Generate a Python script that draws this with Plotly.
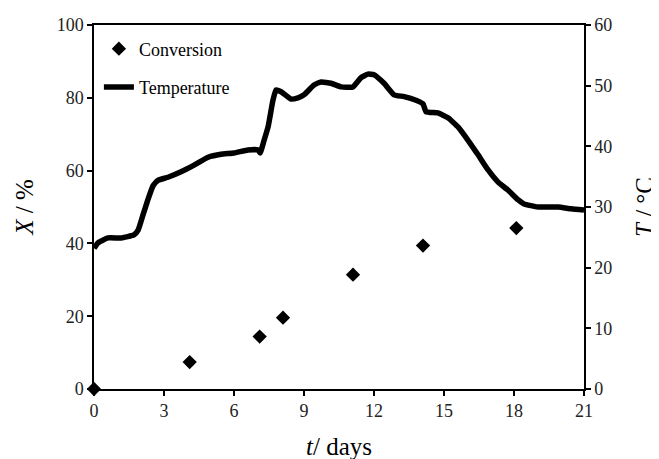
import plotly.graph_objects as go

# Conversion data
conv_t = [0, 4.1, 7.1, 8.1, 11.1, 14.1, 18.1]
conv_x = [0, 7.4, 14.4, 19.6, 31.4, 39.4, 44.2]

# Temperature data (right axis)
temp_t = [0, 0.17, 0.6, 1.16, 1.71, 1.89, 2.1, 2.31, 2.53, 2.74, 3.17, 3.73, 4.29,
          4.89, 5.44, 6.0, 6.6, 7.03, 7.12, 7.29, 7.46, 7.67, 7.8, 8.02, 8.44, 8.74,
          9.0, 9.43, 9.73, 10.16, 10.59, 11.1, 11.44, 11.74, 12.0, 12.43, 12.86,
          13.29, 13.8, 14.1, 14.23, 14.74, 15.17, 15.6, 16.03, 16.46, 16.89, 17.32,
          17.74, 18.17, 18.43, 19.03, 19.89, 20.45, 21.0]
temp_T = [23.2, 24.1, 24.9, 24.9, 25.4, 26.2, 28.7, 31.2, 33.5, 34.4, 34.9, 35.8, 36.9,
          38.2, 38.7, 38.9, 39.4, 39.4, 38.9, 41.0, 43.2, 47.6, 49.3, 49.0, 47.8, 48.0,
          48.5, 50.1, 50.6, 50.4, 49.8, 49.8, 51.3, 51.9, 51.8, 50.4, 48.5,
          48.2, 47.6, 47.0, 45.7, 45.5, 44.7, 43.2, 41.0, 38.6, 36.1, 34.1,
          32.8, 31.2, 30.5, 30.0, 30.0, 29.7, 29.5]

x_ticks = [0, 3, 6, 9, 12, 15, 18, 21]
y1_ticks = [0, 20, 40, 60, 80, 100]
y2_ticks = [0, 10, 20, 30, 40, 50, 60]

FONT = "Liberation Serif, Times New Roman, serif"

fig = go.Figure()
fig.add_trace(go.Scatter(
    x=conv_t, y=conv_x, mode="markers", name="Conversion", legendgroup="c",
    marker=dict(symbol="diamond", size=11, color="black"),
    cliponaxis=False, yaxis="y"))
fig.add_trace(go.Scatter(
    x=temp_t, y=temp_T, mode="lines", name="Temperature", legendgroup="t",
    line=dict(color="black", width=5.5, shape="spline", smoothing=0.4),
    cliponaxis=False, yaxis="y2"))

axis_common = dict(showgrid=False, zeroline=False, showline=True, linecolor="black",
                   linewidth=1.5, ticks="outside", ticklen=5, tickwidth=1.5,
                   tickcolor="black", automargin=False,
                   tickfont=dict(family=FONT, size=18, color="#222"))

fig.update_layout(
    width=659, height=459,
    margin=dict(l=86, r=83, t=17, b=78),
    plot_bgcolor="white", paper_bgcolor="white",
    font=dict(family=FONT, color="black"),
    showlegend=True,
    legend=dict(x=0.01, y=0.985, xanchor="left", yanchor="top",
                font=dict(family=FONT, size=18, color="black"),
                bgcolor="rgba(0,0,0,0)", itemwidth=30, tracegroupgap=12),
    xaxis=dict(range=[0, 21], tickvals=x_ticks, mirror=True,
               title=dict(text="<i>t</i>/ days",
                          font=dict(family=FONT, size=25, color="black"), standoff=17),
               **axis_common),
    yaxis=dict(range=[0, 100], tickvals=y1_ticks,
               title=dict(text="<i>X</i> / %",
                          font=dict(family=FONT, size=25, color="black"), standoff=16),
               **axis_common),
    yaxis2=dict(range=[0, 60], tickvals=y2_ticks, overlaying="y", side="right",
                title=dict(text="<i>T</i> / °C",
                           font=dict(family=FONT, size=25, color="black"), standoff=24),
                **axis_common),
)

fig.write_html("out.html")
